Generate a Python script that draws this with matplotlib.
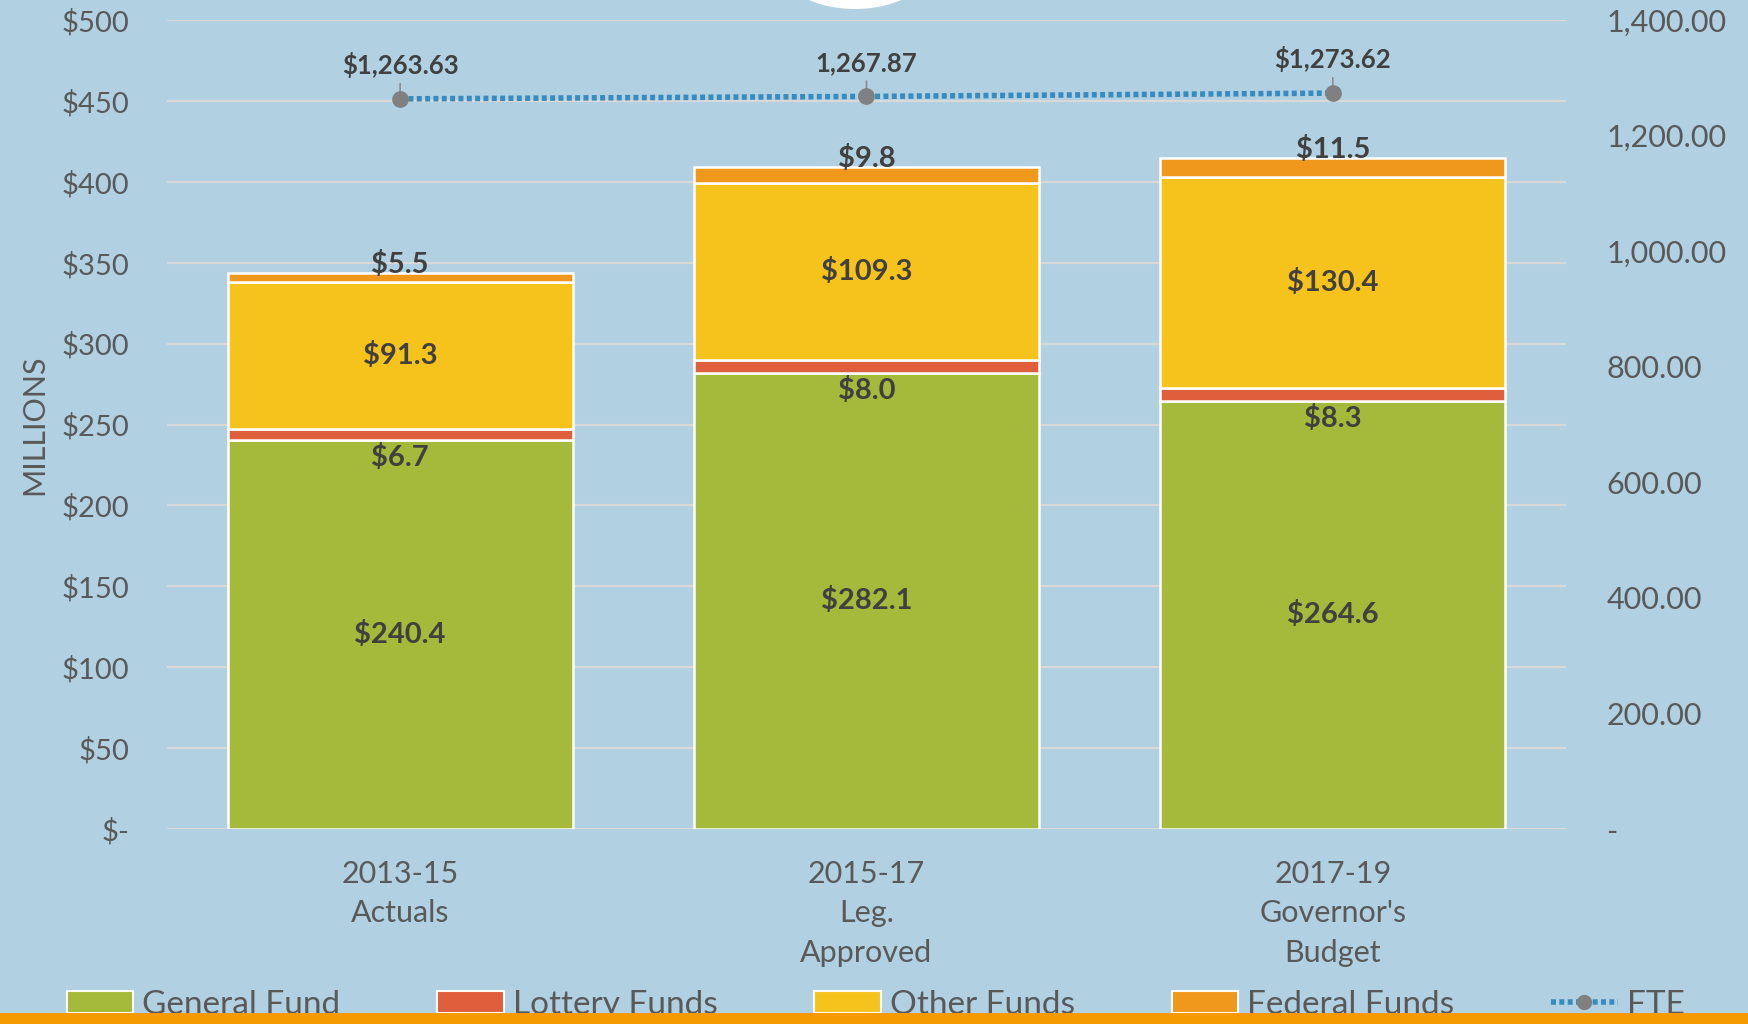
import numpy as np
import matplotlib.pyplot as plt
from matplotlib.patches import Patch, Circle, Rectangle
from matplotlib.lines import Line2D

plt.rcParams['font.family'] = ['Lato', 'DejaVu Sans']

# data (millions) and FTE
categories = ["2013-15\nActuals", "2015-17\nLeg.\nApproved", "2017-19\nGovernor's\nBudget"]
general_fund = [240.4, 282.1, 264.6]
lottery_funds = [6.7, 8.0, 8.3]
other_funds = [91.3, 109.3, 130.4]
federal_funds = [5.5, 9.8, 11.5]
fte = [1263.63, 1267.87, 1273.62]
fte_labels = ["$1,263.63", "1,267.87", "$1,273.62"]

bg = "#b1d1e3"
txt = "#595959"
lab = "#404040"
colors = {"General Fund": "#a5b93a", "Lottery Funds": "#df5e3b",
          "Other Funds": "#f6c31c", "Federal Funds": "#f0981b"}

fig = plt.figure(figsize=(17.48, 10.24), dpi=100, facecolor=bg)
ax = fig.add_axes([0.0955, 0.1904, 0.8004, 0.790])
ax.set_facecolor(bg)
x = np.arange(len(categories))
w = 0.74

series = [("General Fund", general_fund), ("Lottery Funds", lottery_funds),
          ("Other Funds", other_funds), ("Federal Funds", federal_funds)]
bottom = np.zeros(len(x))
for name, vals in series:
    ax.bar(x, vals, w, bottom=bottom, color=colors[name], edgecolor="white",
           linewidth=1.8, zorder=3)
    bottom += np.array(vals)

# data labels
g = np.array(general_fund)
fs = 21
for i in range(len(x)):
    ax.text(x[i], g[i] / 2, f"${general_fund[i]:.1f}", ha="center", va="center",
            fontsize=fs, fontweight="bold", color=lab, zorder=5)
    ax.text(x[i], g[i] - 11, f"${lottery_funds[i]:.1f}", ha="center", va="center",
            fontsize=fs, fontweight="bold", color=lab, zorder=5)
    ob = g[i] + lottery_funds[i]
    ax.text(x[i], ob + other_funds[i] / 2, f"${other_funds[i]:.1f}", ha="center",
            va="center", fontsize=fs, fontweight="bold", color=lab, zorder=5)
    ax.text(x[i], bottom[i] + 5, f"${federal_funds[i]:.1f}", ha="center", va="center",
            fontsize=fs, fontweight="bold", color=lab, zorder=5)

ax.set_xlim(-0.5, 2.5)
ax.set_ylim(0, 500)
ax.set_yticks(np.arange(0, 501, 50))
ax.set_yticklabels(["$-"] + [f"${v}" for v in range(50, 501, 50)])
ax.yaxis.grid(True, color="#d9d9d9", linewidth=1.6, zorder=0)
ax.set_axisbelow(True)
ax.set_xticks(x)
ax.set_xticklabels(categories, linespacing=1.5)
ax.tick_params(axis="y", length=0, pad=27, labelsize=21, labelcolor=txt)
ax.tick_params(axis="x", length=0, pad=22, labelsize=22, labelcolor=txt)
for s in ax.spines.values():
    s.set_visible(False)
ax.set_ylabel("MILLIONS", fontsize=22, color=txt, labelpad=10)

# FTE on secondary axis
ax2 = ax.twinx()
ax2.set_ylim(0, 1400)
ax2.set_yticks(np.arange(0, 1401, 200))
ax2.set_yticklabels(["-"] + [f"{v:,.2f}" for v in range(200, 1401, 200)])
ax2.tick_params(axis="y", length=0, pad=29, labelsize=22, labelcolor=txt)
for s in ax2.spines.values():
    s.set_visible(False)
ax2.plot(x, fte, color="#3a8bbd", linewidth=4, linestyle=(0, (0.9, 0.6)), zorder=4)
ax2.plot(x, fte, linestyle="none", marker="o", markersize=11, color="#808080", zorder=5)
for i in range(len(x)):
    ax2.annotate("", xy=(x[i], fte[i]), xytext=(0, 13), textcoords="offset points",
                 arrowprops=dict(arrowstyle="-", color="#8c8c8c", lw=1.2))
    ax2.annotate(fte_labels[i], xy=(x[i], fte[i]), xytext=(0, 15),
                 textcoords="offset points", ha="center", va="bottom",
                 fontsize=18.5, fontweight="bold", color=lab)

# legend
handles = [Patch(facecolor=colors[n], edgecolor="white", linewidth=1.5) for n, _ in series]
handles.append(Line2D([0], [0], color="#3a8bbd", linewidth=4, linestyle=(0, (0.9, 0.6)),
                      marker="o", markersize=10, markerfacecolor="#808080",
                      markeredgecolor="#808080"))
names = [n for n, _ in series] + ["FTE"]
leg = fig.legend(handles, names, loc="center left", bbox_to_anchor=(0.021, 0.019),
                 ncol=5, frameon=False, fontsize=24, handlelength=2.0,
                 handleheight=0.62, handletextpad=0.27, columnspacing=2.9,
                 labelcolor=txt)

# decorative elements
fig.patches.append(Rectangle((0, 0), 1, 11 / 1024, transform=fig.transFigure,
                             facecolor="#f59a00", edgecolor="none", zorder=10))
fig.patches.append(Circle((855 / 1748, 1 + 36 / 1024), 45 / 1024,
                          transform=fig.transFigure, facecolor="white",
                          edgecolor="none", zorder=10))

fig.savefig("out.png", dpi=100, facecolor=bg)
